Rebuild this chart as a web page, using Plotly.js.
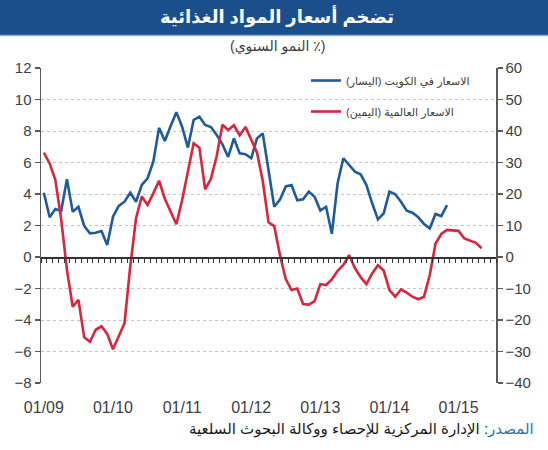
<!DOCTYPE html>
<html>
<head>
<meta charset="utf-8">
<script src="https://cdn.plot.ly/plotly-3.0.1.min.js"></script>
<style>
  html, body { margin: 0; padding: 0; background: #ffffff; }
  #chart { width: 548px; height: 450px; }
</style>
</head>
<body>
<div id="chart"></div>
<script>
// Year-on-year food price inflation, monthly from January 2009 (%)
const kuwaitFood = [
  4.08, 2.52, 3.05, 2.92, 4.93, 2.88, 3.19, 1.97, 1.5, 1.54, 1.65, 0.76,
  2.56, 3.24, 3.51, 4.08, 3.51, 4.57, 5.0, 6.05, 8.2, 7.37, 8.3, 9.19,
  8.27, 6.95, 8.7, 8.9, 8.38, 8.25, 7.75, 7.15, 6.35, 7.53, 6.58, 6.53,
  6.27, 7.53, 7.85, 5.4, 3.19, 3.65, 4.48, 4.57, 3.6, 3.66, 4.15, 3.83,
  2.95, 3.19, 1.47, 4.68, 6.27, 5.84, 5.42, 5.25, 4.57, 3.41, 2.39, 2.77,
  4.15, 3.98, 3.51, 2.94, 2.81, 2.52, 2.1, 1.82, 2.73, 2.6, 3.3
];
const worldFood = [
  33.1, 29.7, 24.4, 12, -4, -15.8, -13.6, -25.5, -26.9, -23.1, -22, -24.4,
  -29.3, -25.4, -21, -3, 12.3, 19.2, 16.5, 20.2, 24.2, 18.5, 14.7, 10.4,
  18, 27, 36.1, 34.7, 21.5, 24.8, 32, 42, 40.3, 41.8, 38.6, 41.3,
  37.4, 33.2, 24.2, 11, 9.8, 0.5, -7, -10.5, -10, -14.9, -15.1, -14,
  -8.6, -8.9, -7.1, -4.4, -2.5, 0.6, -3.5, -6.4, -8.6, -5.2, -2.6, -4.3,
  -10.5, -12.6, -10.3, -11.3, -12.6, -13.4, -12.6, -5.7, 4.3, 7.3, 8.6, 8.5,
  8.3, 5.9, 5.2, 4.5, 2.8
];
const yearLabels = ['01/09', '01/10', '01/11', '01/12', '01/13', '01/14', '01/15'];
const yearStartMonth = [0, 12, 24, 36, 48, 60, 72];
const monthCount = 79;

const titleText = 'تضخم أسعار المواد الغذائية';
const subtitleText = '(٪ النمو السنوي)';
const kuwaitName = 'الاسعار في الكويت (اليسار)';
const worldName = 'الاسعار العالمية (اليمين)';
const sourceLabel = 'المصدر';
const sourceText = 'الإدارة المركزية للإحصاء ووكالة البحوث السلعية';

// keep Arabic strings right-to-left inside LTR svg text
const rtl = s => '\u200F' + s + '\u200F';
const monthIndex = arr => arr.map((_, i) => i);

const FONT = "'Liberation Sans', Arial, 'DejaVu Sans', sans-serif";
const AXIS_GREY = '#595959';
const TEXT_GREY = '#404040';
const BLUE = '#1f5a9e';
const RED = '#d7263d';
const BANNER = '#1b4f8c';

const traces = [
  {
    x: monthIndex(kuwaitFood), y: kuwaitFood,
    type: 'scatter', mode: 'lines',
    name: rtl(kuwaitName), legendgroup: 'kw',
    line: { color: BLUE, width: 2.6 },
    hoverinfo: 'skip'
  },
  {
    x: monthIndex(worldFood), y: worldFood,
    type: 'scatter', mode: 'lines', yaxis: 'y2',
    name: rtl(worldName), legendgroup: 'wd',
    line: { color: RED, width: 2.6 },
    hoverinfo: 'skip'
  },
  // carrier for the month-tick axis drawn along zero
  { x: [], y: [], xaxis: 'x2', yaxis: 'y', showlegend: false, hoverinfo: 'skip' }
];

const plotL = 41, plotR = 496, plotT = 68, plotB = 383;
const W = 548, H = 450;
const px2x = p => (p - plotL) / (plotR - plotL);
const px2y = p => (plotB - p) / (plotB - plotT);

const layout = {
  width: W, height: H,
  margin: { l: plotL, r: W - plotR, t: plotT, b: H - plotB, pad: 0 },
  paper_bgcolor: '#ffffff', plot_bgcolor: '#ffffff',
  font: { family: FONT, color: TEXT_GREY },
  showlegend: true,
  title: {
    text: rtl(titleText),
    font: { family: FONT, size: 18, color: '#ffffff', weight: 'bold' },
    xref: 'container', x: 277 / W, xanchor: 'center',
    yref: 'container', y: 1 - 17 / H, yanchor: 'middle'
  },
  xaxis: {
    range: [-0.5, monthCount - 0.5],
    tickmode: 'array', tickvals: yearStartMonth, ticktext: yearLabels,
    ticks: '', showline: false, showgrid: false, zeroline: false,
    ticklabelstandoff: 13,
    tickfont: { family: FONT, size: 16, color: TEXT_GREY },
    fixedrange: true
  },
  xaxis2: {
    overlaying: 'x', anchor: 'free', position: 0.4, side: 'bottom',
    range: [-0.5, monthCount - 0.5],
    tick0: 0.5, dtick: 1, ticks: 'outside', ticklen: 4, tickwidth: 1, tickcolor: '#333333',
    showline: true, linecolor: '#333333', linewidth: 1.5,
    showticklabels: false, showgrid: false, zeroline: false, fixedrange: true
  },
  yaxis: {
    range: [-8, 12], tick0: 0, dtick: 2,
    ticks: 'outside', ticklen: 5, tickwidth: 1.5, tickcolor: AXIS_GREY,
    showline: true, linecolor: AXIS_GREY, linewidth: 1.5,
    showgrid: true, gridcolor: '#c4c4c4', griddash: 'dot', gridwidth: 1,
    zeroline: false,
    tickfont: { family: FONT, size: 15, color: TEXT_GREY },
    fixedrange: true
  },
  yaxis2: {
    overlaying: 'y', side: 'right',
    range: [-40, 60], tick0: 0, dtick: 10,
    ticks: 'outside', ticklen: 5, tickwidth: 1.5, tickcolor: AXIS_GREY,
    showline: true, linecolor: AXIS_GREY, linewidth: 1.5,
    showgrid: false, zeroline: false,
    tickfont: { family: FONT, size: 15, color: TEXT_GREY },
    fixedrange: true
  },
  legend: {
    x: px2x(306), y: px2y(66), xanchor: 'left', yanchor: 'top',
    bgcolor: 'rgba(0,0,0,0)', borderwidth: 0,
    font: { family: FONT, size: 11, color: TEXT_GREY },
    itemwidth: 30, traceorder: 'grouped', tracegroupgap: 12
  },
  shapes: [
    {
      type: 'rect', xref: 'paper', yref: 'paper', layer: 'below',
      x0: px2x(0), x1: px2x(W), y0: px2y(35), y1: px2y(0),
      fillcolor: BANNER, line: { width: 0 }
    },
    {
      type: 'line', xref: 'paper', yref: 'paper',
      x0: px2x(0), x1: px2x(W), y0: px2y(35.5), y1: px2y(35.5),
      line: { color: '#8fb3de', width: 1.5 }
    }
  ],
  annotations: [
    {
      text: rtl(subtitleText), showarrow: false,
      xref: 'paper', yref: 'paper', x: px2x(277), y: px2y(46),
      xanchor: 'center', yanchor: 'middle',
      font: { family: FONT, size: 14, color: TEXT_GREY }
    },
    {
      text: rtl('<span style="color:#2f6fb6">' + sourceLabel + '</span>: ' + sourceText),
      showarrow: false,
      xref: 'paper', yref: 'paper', x: px2x(536), y: px2y(429),
      xanchor: 'right', yanchor: 'middle',
      font: { family: FONT, size: 15, color: '#1a1a1a' }
    }
  ]
};

Plotly.newPlot('chart', traces, layout, { displayModeBar: false, staticPlot: true });
</script>
</body>
</html>
